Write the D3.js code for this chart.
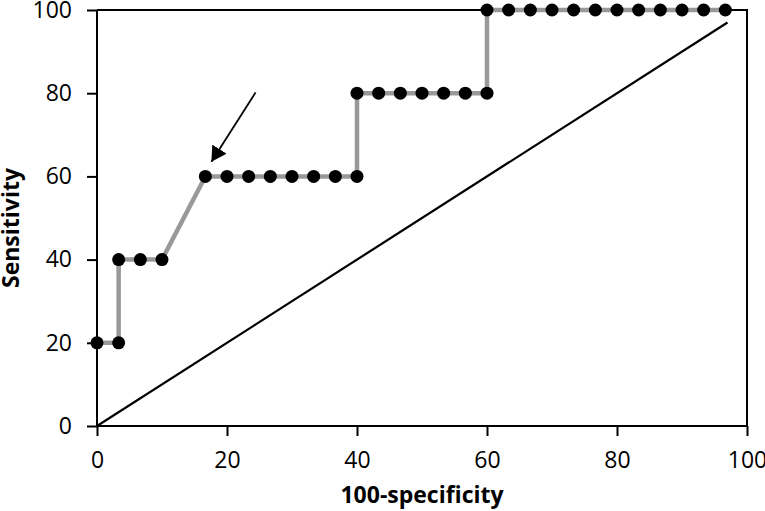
<!DOCTYPE html>
<html>
<head>
    <meta charset="utf-8">
    <script src="https://cdnjs.cloudflare.com/ajax/libs/d3/7.8.5/d3.min.js"></script>
    <style>
        body { margin: 0; background: #fff; }
        svg { font-family: "Open Sans", sans-serif; }
        .axis text { fill: #000; }
        .axis path, .axis line { stroke: #000; stroke-width: 2; }
        .title { font-weight: bold; }
        .roc { fill: none; stroke: #999; stroke-width: 4.5; }
        .dot { fill: #000; }
        .ref { stroke: #000; stroke-width: 2.2; }
        .frame { fill: none; stroke: #000; stroke-width: 2; }
        .arrow { stroke: #000; stroke-width: 1.8; }
    </style>
</head>
<body>
<div id="chart"></div>
<script>
    // ROC points (100-specificity, sensitivity)
    const fpr = [0, 3.33, 3.33, 6.67, 10, 16.67, 20, 23.33, 26.67, 30, 33.33, 36.67, 40,
                 40, 43.33, 46.67, 50, 53.33, 56.67, 60,
                 60, 63.33, 66.67, 70, 73.33, 76.67, 80, 83.33, 86.67, 90, 93.33, 96.67];
    const sens = [20, 20, 40, 40, 40, 60, 60, 60, 60, 60, 60, 60, 60,
                  80, 80, 80, 80, 80, 80, 80,
                  100, 100, 100, 100, 100, 100, 100, 100, 100, 100, 100, 100];
    const refLine = [[0, 0], [97, 97]];
    const arrowPts = [[24.4, 80.2], [17.6, 63.5]];
    const ticks = [0, 20, 40, 60, 80, 100];

    const width = 765, height = 511;
    const svg = d3.select('#chart').append('svg')
        .attr('width', width)
        .attr('height', height);

    const x = d3.scaleLinear().domain([0, 100]).range([97, 747]);
    const y = d3.scaleLinear().domain([0, 100]).range([426, 10]);

    svg.append('defs').append('marker')
        .attr('id', 'head')
        .attr('viewBox', '0 0 15 17')
        .attr('refX', 15).attr('refY', 8.5)
        .attr('markerWidth', 15).attr('markerHeight', 17)
        .attr('markerUnits', 'userSpaceOnUse')
        .attr('orient', 'auto')
        .append('path').attr('d', 'M0,0 L15,8.5 L0,17 z').attr('fill', '#000');

    // frame top/right
    svg.append('path').attr('class', 'frame')
        .attr('d', `M${x(0)},${y(100)}H${x(100)}V${y(0)}`);

    svg.append('g').attr('class', 'axis')
        .attr('transform', `translate(0,${y(0)})`)
        .call(d3.axisBottom(x).tickValues(ticks).tickSize(10).tickPadding(16).tickSizeOuter(0))
        .call(g => g.select('.domain').attr('d', `M${x(0)},0H${x(100)}`))
        .attr('font-size', 23).attr('font-family', null);

    svg.append('g').attr('class', 'axis')
        .attr('transform', `translate(${x(0)},0)`)
        .call(d3.axisLeft(y).tickValues(ticks).tickSize(10).tickPadding(15).tickSizeOuter(0))
        .call(g => g.select('.domain').attr('d', `M0,${y(0)}V${y(100)}`))
        .attr('font-size', 23).attr('font-family', null);

    // reference diagonal
    svg.append('line').attr('class', 'ref')
        .attr('x1', x(refLine[0][0])).attr('y1', y(refLine[0][1]))
        .attr('x2', x(refLine[1][0])).attr('y2', y(refLine[1][1]));

    const pts = fpr.map((d, i) => [d, sens[i]]);
    const line = d3.line().x(d => x(d[0])).y(d => y(d[1]));

    svg.append('path').attr('class', 'roc').attr('d', line(pts));

    svg.append('g').selectAll('circle')
        .data(pts)
        .enter().append('circle')
            .attr('class', 'dot')
            .attr('cx', d => x(d[0]))
            .attr('cy', d => y(d[1]))
            .attr('r', 6.5);

    // arrow
    svg.append('line').attr('class', 'arrow')
        .attr('x1', x(arrowPts[0][0])).attr('y1', y(arrowPts[0][1]))
        .attr('x2', x(arrowPts[1][0])).attr('y2', y(arrowPts[1][1]))
        .attr('marker-end', 'url(#head)');

    svg.append('text').attr('class', 'title')
        .attr('x', 422).attr('y', 503)
        .attr('font-size', 23)
        .attr('text-anchor', 'middle')
        .text('100-specificity');

    svg.append('text').attr('class', 'title')
        .attr('transform', 'translate(19,228) rotate(-90)')
        .attr('font-size', 23)
        .attr('text-anchor', 'middle')
        .text('Sensitivity');
</script>
</body>
</html>
